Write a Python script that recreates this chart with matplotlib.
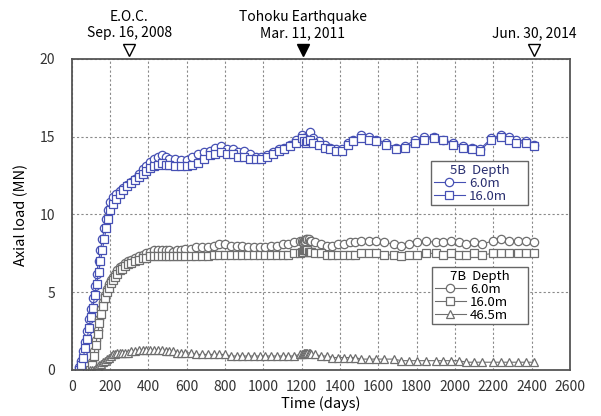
import matplotlib
matplotlib.use("Agg")
import matplotlib.pyplot as plt

plt.rcParams['font.family'] = ['Noto Sans CJK JP', 'DejaVu Sans']

# pile 5B gauges (days since start, axial load in MN)
days_5b = [40, 50, 60, 70, 80, 90, 100, 110, 120, 130, 140, 150, 160, 170, 180,
           190, 200, 215, 230, 250, 270, 290, 310, 330, 350, 370, 390, 410, 430,
           450, 470, 490, 510, 540, 570, 600, 630, 660, 690, 720, 750, 780, 810,
           840, 870, 900, 930, 960, 990, 1020, 1050, 1080, 1110, 1140, 1170,
           1200, 1210, 1220, 1230, 1245, 1260, 1290, 1320, 1350, 1380, 1410,
           1440, 1470, 1510, 1550, 1590, 1640, 1690, 1740, 1790, 1840, 1890,
           1940, 1990, 2040, 2090, 2130, 2190, 2240, 2280, 2320, 2370, 2413]
load_5b_6m = [0.2, 0.6, 1.2, 1.8, 2.5, 3.3, 3.9, 4.6, 5.4, 6.2, 7.0, 7.7, 8.4,
              9.1, 9.7, 10.3, 10.8, 11.1, 11.3, 11.5, 11.7, 11.9, 12.1, 12.3,
              12.6, 12.9, 13.1, 13.4, 13.6, 13.7, 13.8, 13.7, 13.6, 13.6, 13.5,
              13.5, 13.7, 13.9, 14.0, 14.1, 14.3, 14.4, 14.2, 14.2, 14.0, 14.1,
              13.9, 13.7, 13.7, 13.8, 14.0, 14.2, 14.3, 14.5, 14.8, 15.1, 14.9,
              14.8, 15.0, 15.3, 14.9, 14.7, 14.5, 14.3, 14.2, 14.2, 14.6, 14.8,
              15.1, 15.0, 14.8, 14.6, 14.3, 14.4, 14.8, 15.0, 15.0, 14.8, 14.6,
              14.4, 14.3, 14.2, 14.9, 15.1, 15.0, 14.8, 14.7, 14.5]
load_5b_16m = [0.0, 0.3, 0.8, 1.4, 2.0, 2.7, 3.4, 4.0, 4.8, 5.5, 6.3, 7.0, 7.7,
               8.4, 9.1, 9.7, 10.3, 10.7, 11.0, 11.3, 11.6, 11.8, 12.0, 12.2,
               12.4, 12.6, 12.8, 13.0, 13.1, 13.2, 13.3, 13.2, 13.2, 13.1, 13.1,
               13.1, 13.2, 13.3, 13.6, 13.8, 13.9, 14.0, 13.9, 13.9, 13.7, 13.7,
               13.6, 13.6, 13.6, 13.7, 13.9, 14.1, 14.2, 14.4, 14.6, 14.9, 14.7,
               14.6, 14.7, 14.8, 14.6, 14.5, 14.3, 14.2, 14.1, 14.1, 14.5, 14.7,
               14.9, 14.8, 14.7, 14.5, 14.2, 14.3, 14.6, 14.8, 14.9, 14.8, 14.5,
               14.3, 14.2, 14.1, 14.8, 15.0, 14.8, 14.6, 14.6, 14.4]

# pile 7B gauges
days_7b = [95, 105, 115, 125, 135, 145, 155, 165, 175, 185, 195, 205, 215, 225,
           235, 250, 265, 280, 295, 310, 330, 350, 370, 390, 410, 430, 450, 470,
           490, 510, 530, 550, 570, 590, 620, 650, 680, 710, 740, 770, 800, 830,
           860, 890, 920, 950, 980, 1010, 1040, 1070, 1100, 1130, 1160, 1190,
           1200, 1206, 1212, 1218, 1224, 1230, 1236, 1242, 1250, 1270, 1300,
           1330, 1360, 1390, 1420, 1450, 1480, 1510, 1550, 1590, 1630, 1680,
           1720, 1760, 1800, 1850, 1900, 1940, 1980, 2020, 2060, 2100, 2140,
           2200, 2240, 2280, 2330, 2370, 2413]
load_7b_6m = [0.0, 0.5, 1.2, 1.9, 2.6, 3.3, 3.9, 4.4, 4.8, 5.2, 5.5, 5.8, 6.0,
              6.2, 6.4, 6.6, 6.7, 6.9, 7.0, 7.1, 7.2, 7.3, 7.4, 7.5, 7.6, 7.7,
              7.7, 7.7, 7.7, 7.7, 7.6, 7.7, 7.7, 7.8, 7.8, 7.9, 7.9, 7.9, 8.0,
              8.1, 8.1, 8.0, 8.0, 8.0, 7.9, 7.9, 7.9, 7.9, 8.0, 8.0, 8.1, 8.1,
              8.2, 8.3, 8.3, 8.2, 8.3, 8.3, 8.4, 8.4, 8.4, 8.3, 8.3, 8.2, 8.1,
              8.0, 8.0, 8.1, 8.1, 8.2, 8.2, 8.3, 8.3, 8.3, 8.2, 8.1, 8.0, 8.1,
              8.2, 8.3, 8.2, 8.2, 8.3, 8.2, 8.1, 8.2, 8.1, 8.3, 8.4, 8.3, 8.3,
              8.3, 8.2]
load_7b_16m = [0.0, 0.3, 0.9, 1.6, 2.3, 3.0, 3.6, 4.1, 4.6, 5.0, 5.3, 5.6, 5.8,
               6.0, 6.2, 6.4, 6.5, 6.7, 6.8, 6.9, 7.0, 7.1, 7.2, 7.2, 7.3, 7.3,
               7.3, 7.3, 7.3, 7.3, 7.3, 7.3, 7.3, 7.3, 7.3, 7.3, 7.3, 7.3, 7.4,
               7.4, 7.4, 7.4, 7.4, 7.4, 7.4, 7.4, 7.4, 7.4, 7.4, 7.4, 7.4, 7.4,
               7.5, 7.5, 7.6, 7.6, 7.7, 7.7, 7.7, 7.7, 7.6, 7.6, 7.6, 7.5, 7.5,
               7.4, 7.4, 7.4, 7.4, 7.4, 7.4, 7.5, 7.5, 7.5, 7.4, 7.4, 7.3, 7.4,
               7.4, 7.5, 7.5, 7.4, 7.5, 7.4, 7.4, 7.5, 7.4, 7.5, 7.5, 7.5, 7.5,
               7.5, 7.5]
load_7b_46m = [0.0, 0.0, 0.0, 0.1, 0.2, 0.3, 0.4, 0.5, 0.6, 0.7, 0.8, 0.9, 1.0,
               1.0, 1.1, 1.1, 1.1, 1.1, 1.1, 1.2, 1.2, 1.3, 1.3, 1.3, 1.3, 1.3,
               1.3, 1.3, 1.2, 1.2, 1.2, 1.1, 1.1, 1.1, 1.1, 1.0, 1.0, 1.0, 1.0,
               1.0, 1.0, 0.9, 0.9, 0.9, 0.9, 0.9, 0.9, 0.9, 0.9, 0.9, 0.9, 0.9,
               0.9, 1.0, 1.0, 1.0, 1.1, 1.1, 1.1, 1.1, 1.1, 1.1, 1.0, 1.0, 0.9,
               0.9, 0.8, 0.8, 0.8, 0.8, 0.8, 0.7, 0.7, 0.7, 0.7, 0.7, 0.6, 0.6,
               0.6, 0.6, 0.6, 0.6, 0.6, 0.6, 0.5, 0.5, 0.5, 0.5, 0.5, 0.5, 0.5,
               0.5, 0.5]

# events marked above the plot
event_days = [300, 1206, 2413]
event_titles = ['E.O.C.', 'Tohoku Earthquake', '']
event_dates = ['Sep. 16, 2008', 'Mar. 11, 2011', 'Jun. 30, 2014']
event_filled = [False, True, False]

blue = '#4650b4'
gray = '#6e6e6e'

fig = plt.figure(figsize=(6.01, 4.16), dpi=100)
ax = fig.add_axes([0.1193, 0.1106, 0.8291, 0.7476])

mk = dict(markersize=6, markeredgewidth=0.9, markerfacecolor='white', linewidth=0.8)
h5a, = ax.plot(days_5b, load_5b_6m, marker='o', color=blue, **mk)
h5b, = ax.plot(days_5b, load_5b_16m, marker='s', color=blue, **mk)
h7a, = ax.plot(days_7b, load_7b_6m, marker='o', color=gray, **mk)
h7b, = ax.plot(days_7b, load_7b_16m, marker='s', color=gray, **mk)
h7c, = ax.plot(days_7b, load_7b_46m, marker='^', color=gray, **mk)

ax.set_xlim(0, 2600)
ax.set_ylim(0, 20)
ax.set_xticks(range(0, 2601, 200))
ax.set_yticks(range(0, 21, 5))
ax.grid(True, color='#8a8a8a', linestyle=(0, (2, 2)), linewidth=0.8)
ax.tick_params(length=0, labelsize=10, colors='#333333')
ax.tick_params(axis='x', pad=7)
ax.tick_params(axis='y', pad=12)
for s in ax.spines.values():
    s.set_color('#555555')
    s.set_linewidth(1.3)

ax.set_xlabel('Time (days)', fontsize=10.5, labelpad=2)
ax.set_ylabel('Axial load (MN)', fontsize=10.5, labelpad=8)

# event markers and captions
for d, t, dt, f in zip(event_days, event_titles, event_dates, event_filled):
    ax.plot(d, 20.55, marker='v', markersize=8, clip_on=False,
            markerfacecolor='black' if f else 'white',
            markeredgecolor='black', markeredgewidth=1.0)
    ax.text(d, 21.65, dt, ha='center', va='center', fontsize=10)
    if t:
        ax.text(d, 22.7, t, ha='center', va='center', fontsize=10)

leg_kw = dict(loc='upper left', mode='expand', fontsize=9.5, frameon=True,
              fancybox=False, framealpha=1, edgecolor='#666666',
              handlelength=2.4, borderpad=0.2, labelspacing=0.0,
              handletextpad=0.3, title_fontsize=9.5, borderaxespad=0)
leg5 = ax.legend([h5a, h5b], ['6.0m', '16.0m'], title='5B  Depth',
                 bbox_to_anchor=(0.721, 0.0, 0.195, 0.672), **leg_kw)
leg5.get_frame().set_linewidth(1.0)
for txt in leg5.get_texts():
    txt.set_color('#2a2f70')
leg5.get_title().set_color('#2a2f70')
ax.add_artist(leg5)
leg7 = ax.legend([h7a, h7b, h7c], ['6.0m', '16.0m', '46.5m'], title='7B  Depth',
                 bbox_to_anchor=(0.723, 0.0, 0.193, 0.331), **leg_kw)
leg7.get_frame().set_linewidth(1.0)

fig.savefig('out.png', dpi=100)
